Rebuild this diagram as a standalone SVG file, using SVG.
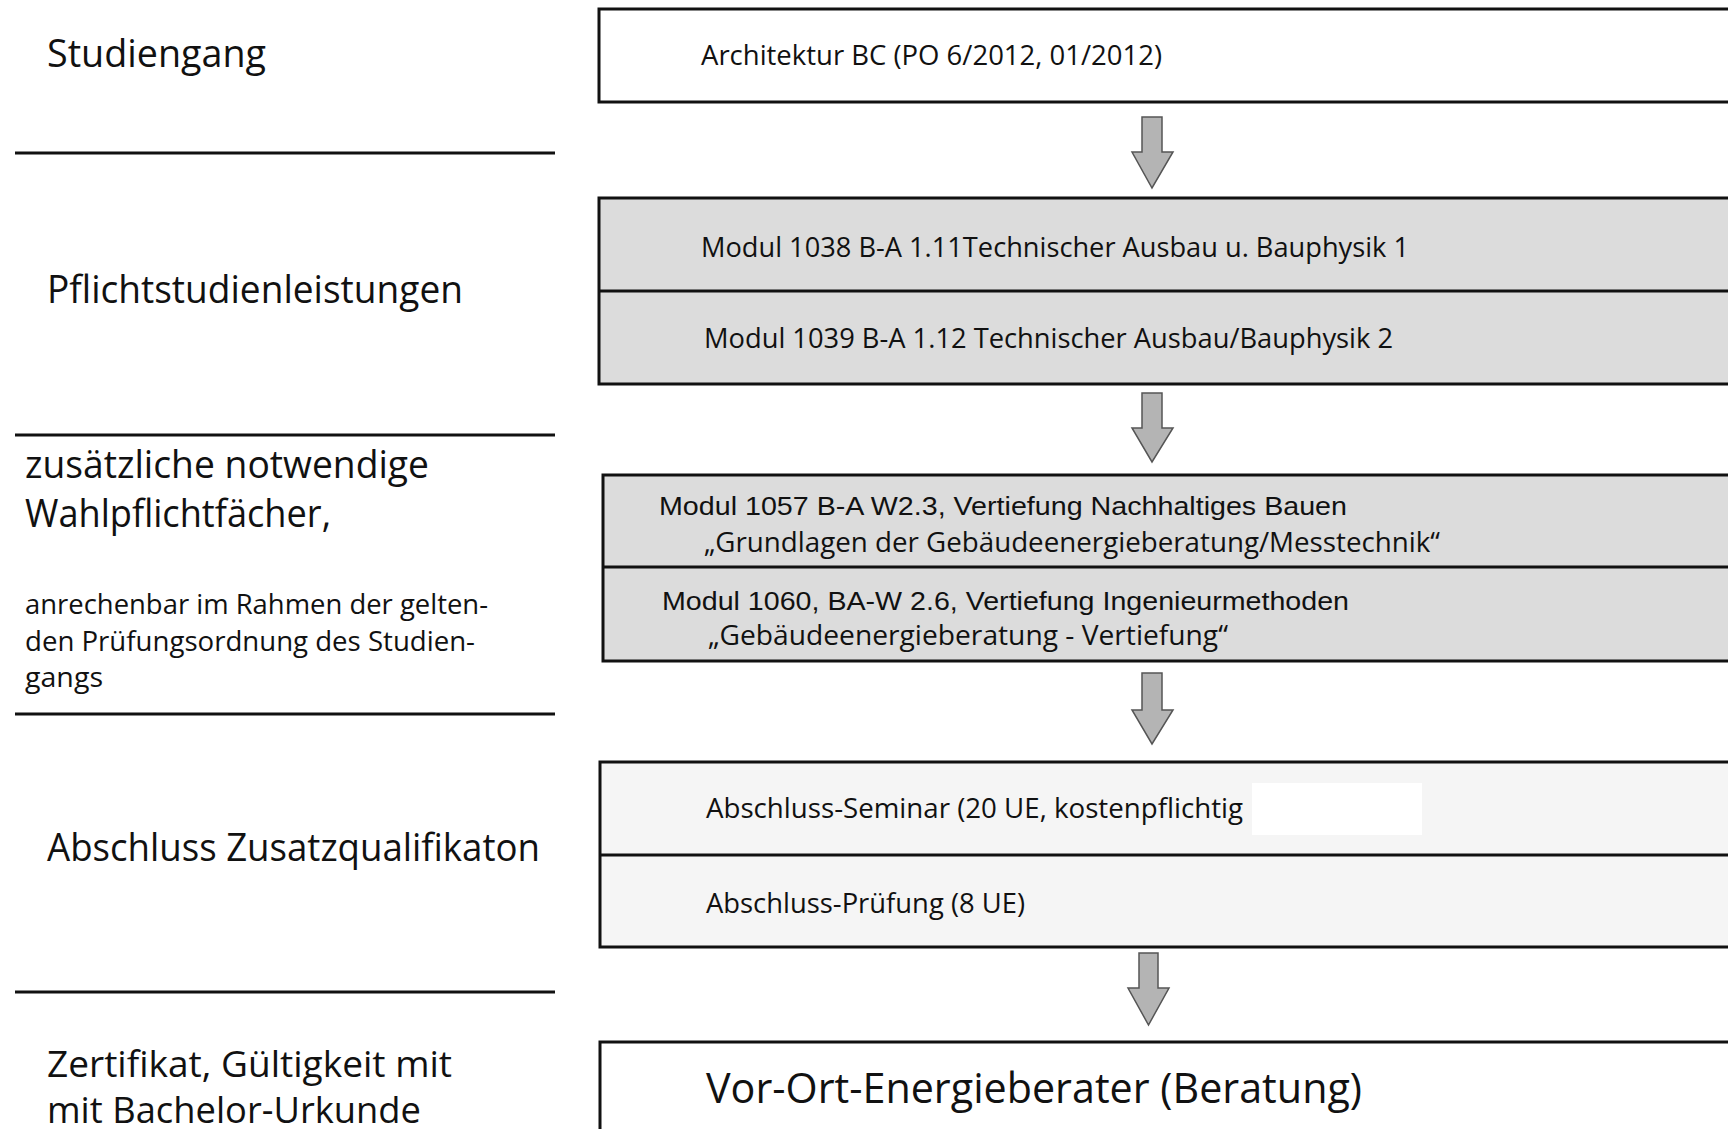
<svg xmlns="http://www.w3.org/2000/svg" width="1728" height="1129" viewBox="0 0 1728 1129">
<style>
.head{font-family:"Open Sans","Noto Sans",sans-serif;font-size:39px;fill:#111}
.head2{font-family:"Open Sans","Noto Sans",sans-serif;font-size:37px;fill:#111}
.sub{font-family:"Open Sans","Noto Sans",sans-serif;font-size:27px;fill:#111}
.bt{font-family:"Open Sans","Noto Sans",sans-serif;font-size:28px;fill:#111}
.ar{font-family:"Liberation Sans",Arial,sans-serif;font-size:26px;fill:#111}
.big{font-family:"Open Sans","Noto Sans",sans-serif;font-size:42px;fill:#111}
.box{stroke:#111;stroke-width:3}
.div{stroke:#111;stroke-width:3}
.sep{stroke:#111;stroke-width:3}
.arrow{fill:#b4b4b4;stroke:#555;stroke-width:1.5;stroke-linejoin:miter}
</style>
<rect width="1728" height="1129" fill="#fff"/>
<g id="labels">
<text class="head" x="47" y="67" textLength="219" lengthAdjust="spacingAndGlyphs">Studiengang</text>
<line class="sep" x1="15" y1="153" x2="555" y2="153"/>
<text class="head" x="47" y="303" textLength="416" lengthAdjust="spacingAndGlyphs">Pflichtstudienleistungen</text>
<line class="sep" x1="15" y1="435" x2="555" y2="435"/>
<text class="head" x="25" y="478" textLength="404" lengthAdjust="spacingAndGlyphs">zusätzliche notwendige</text>
<text class="head" x="25" y="527" textLength="306" lengthAdjust="spacingAndGlyphs">Wahlpflichtfächer,</text>
<text class="sub" x="25" y="614" textLength="463" lengthAdjust="spacingAndGlyphs">anrechenbar im Rahmen der gelten-</text>
<text class="sub" x="25" y="651" textLength="450" lengthAdjust="spacingAndGlyphs">den Prüfungsordnung des Studien-</text>
<text class="sub" x="25" y="687" textLength="78" lengthAdjust="spacingAndGlyphs">gangs</text>
<line class="sep" x1="15" y1="714" x2="555" y2="714"/>
<text class="head" x="47" y="861" textLength="493" lengthAdjust="spacingAndGlyphs">Abschluss Zusatzqualifikaton</text>
<line class="sep" x1="15" y1="992" x2="555" y2="992"/>
<text class="head2" x="47" y="1077" textLength="405" lengthAdjust="spacingAndGlyphs">Zertifikat, Gültigkeit mit</text>
<text class="head2" x="47" y="1123" textLength="374" lengthAdjust="spacingAndGlyphs">mit Bachelor-Urkunde</text>
</g>
<g id="node-studiengang">
<rect class="box" x="599" y="9" width="1150" height="93" fill="#fff"/>
<text class="bt" x="701" y="65" textLength="461" lengthAdjust="spacingAndGlyphs">Architektur BC (PO 6/2012, 01/2012)</text>
</g>
<g id="node-pflicht">
<rect class="box" x="599" y="198" width="1150" height="186" fill="#dcdcdc"/>
<line class="div" x1="599" y1="291" x2="1740" y2="291"/>
<text class="bt" x="701" y="257" textLength="708" lengthAdjust="spacingAndGlyphs">Modul 1038 B-A 1.11Technischer Ausbau u. Bauphysik 1</text>
<text class="bt" x="704" y="348" textLength="689" lengthAdjust="spacingAndGlyphs">Modul 1039 B-A 1.12 Technischer Ausbau/Bauphysik 2</text>
</g>
<g id="node-wahlpflicht">
<rect class="box" x="603" y="475" width="1146" height="186" fill="#dcdcdc"/>
<line class="div" x1="603" y1="567" x2="1740" y2="567"/>
<text class="ar" x="659" y="515" textLength="688" lengthAdjust="spacingAndGlyphs">Modul 1057 B-A W2.3, Vertiefung Nachhaltiges Bauen</text>
<text class="bt" x="704" y="552" textLength="736" lengthAdjust="spacingAndGlyphs">„Grundlagen der Gebäudeenergieberatung/Messtechnik“</text>
<text class="ar" x="662" y="610" textLength="687" lengthAdjust="spacingAndGlyphs">Modul 1060, BA-W 2.6, Vertiefung Ingenieurmethoden</text>
<text class="bt" x="708" y="645" textLength="520" lengthAdjust="spacingAndGlyphs">„Gebäudeenergieberatung - Vertiefung“</text>
</g>
<g id="node-abschluss">
<rect class="box" x="600" y="762" width="1149" height="185" fill="#f5f5f5"/>
<line class="div" x1="600" y1="855" x2="1740" y2="855"/>
<rect x="1252" y="783" width="170" height="52" fill="#fff"/>
<text class="bt" x="706" y="818" textLength="537" lengthAdjust="spacingAndGlyphs">Abschluss-Seminar (20 UE, kostenpflichtig</text>
<text class="bt" x="706" y="913" textLength="319" lengthAdjust="spacingAndGlyphs">Abschluss-Prüfung (8 UE)</text>
</g>
<g id="node-zertifikat">
<rect class="box" x="600" y="1042" width="1149" height="120" fill="#fff"/>
<text class="big" x="706" y="1103" textLength="656" lengthAdjust="spacingAndGlyphs">Vor-Ort-Energieberater (Beratung)</text>
</g>
<g id="connectors">
<polygon class="arrow" points="1142,117 1162,117 1162,152 1173,152 1152,188 1132,152 1142,152"/>
<polygon class="arrow" points="1142,393 1162,393 1162,428 1173,428 1152,462 1132,428 1142,428"/>
<polygon class="arrow" points="1142,673 1162,673 1162,710 1173,710 1152,744 1132,710 1142,710"/>
<polygon class="arrow" points="1139,953 1158,953 1158,988 1169,988 1148.5,1025 1128,988 1139,988"/>
</g>
</svg>
